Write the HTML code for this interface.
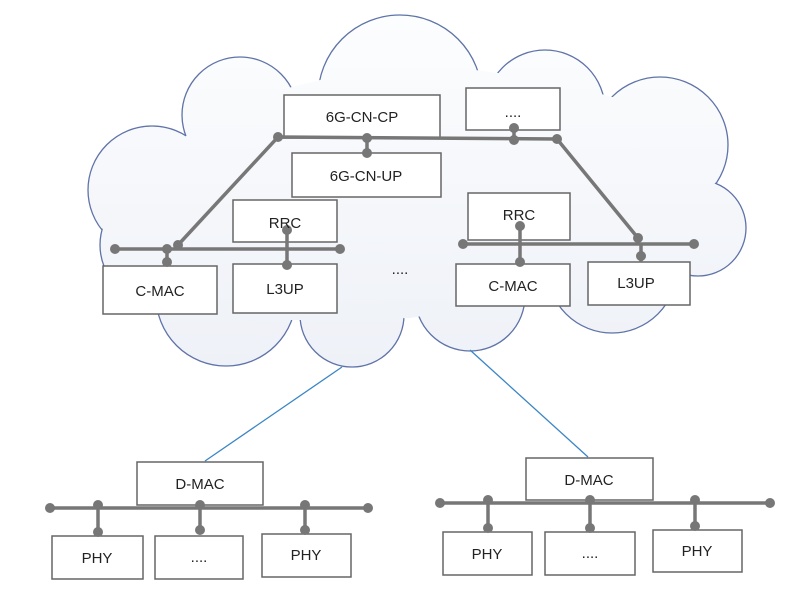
<!DOCTYPE html>
<html><head><meta charset="utf-8"><style>
html,body{margin:0;padding:0;background:#fff;}
svg{display:block;}
text{font-family:"Liberation Sans",sans-serif;font-size:15px;fill:#222;text-anchor:middle;}
</style></head><body>
<svg width="800" height="598" viewBox="0 0 800 598">
<defs>
<linearGradient id="g" gradientUnits="userSpaceOnUse" x1="0" y1="20" x2="0" y2="370"><stop offset="0" stop-color="#fcfdfe"/><stop offset="1" stop-color="#eef1f7"/></linearGradient>
</defs>
<g fill="url(#g)" stroke="#5f73a8" stroke-width="1.3">
<circle cx="152" cy="190" r="64"/>
<circle cx="240" cy="115" r="58"/>
<circle cx="400" cy="97" r="82"/>
<circle cx="545" cy="110" r="60"/>
<circle cx="660" cy="145" r="68"/>
<circle cx="698" cy="228" r="48"/>
<circle cx="612" cy="268" r="65"/>
<circle cx="470" cy="296" r="55"/>
<circle cx="352" cy="315" r="52"/>
<circle cx="226" cy="296" r="70"/>
<circle cx="158" cy="245" r="58"/>
</g>
<g fill="url(#g)" stroke="none">
<circle cx="152" cy="190" r="63"/>
<circle cx="240" cy="115" r="57"/>
<circle cx="400" cy="97" r="81"/>
<circle cx="545" cy="110" r="59"/>
<circle cx="660" cy="145" r="67"/>
<circle cx="698" cy="228" r="47"/>
<circle cx="612" cy="268" r="64"/>
<circle cx="470" cy="296" r="54"/>
<circle cx="352" cy="315" r="51"/>
<circle cx="226" cy="296" r="69"/>
<circle cx="158" cy="245" r="57"/>
<polygon points="150,160 240,100 400,60 550,80 660,110 700,200 680,260 600,290 520,300 410,318 300,320 230,320 150,280"/>
</g>
<line x1="342" y1="367" x2="205" y2="461" stroke="#3b86c6" stroke-width="1.3"/>
<line x1="470" y1="350" x2="588" y2="457" stroke="#3b86c6" stroke-width="1.3"/>
<g fill="#fff" stroke="#666" stroke-width="1.5">
<rect x="284" y="95" width="156" height="43"/>
<rect x="466" y="88" width="94" height="42"/>
<rect x="292" y="153" width="149" height="44"/>
<rect x="233" y="200" width="104" height="42"/>
<rect x="468" y="193" width="102" height="47"/>
<rect x="103" y="266" width="114" height="48"/>
<rect x="233" y="264" width="104" height="49"/>
<rect x="456" y="264" width="114" height="42"/>
<rect x="588" y="262" width="102" height="43"/>
<rect x="137" y="462" width="126" height="43"/>
<rect x="52" y="536" width="91" height="43"/>
<rect x="155" y="536" width="88" height="43"/>
<rect x="262" y="534" width="89" height="43"/>
<rect x="526" y="458" width="127" height="42"/>
<rect x="443" y="532" width="89" height="43"/>
<rect x="545" y="532" width="90" height="43"/>
<rect x="653" y="530" width="89" height="42"/>
</g>
<g stroke="#777" stroke-width="3.5" fill="none">
<polyline points="178,245 278,137 557,139 638,238"/>
<line x1="115" y1="249" x2="340" y2="249"/>
<line x1="463" y1="244" x2="694" y2="244"/>
<line x1="367" y1="138" x2="367" y2="153"/>
<line x1="514" y1="128" x2="514" y2="140"/>
<line x1="167" y1="249" x2="167" y2="263"/>
<line x1="287" y1="230" x2="287" y2="266"/>
<line x1="520" y1="225" x2="520" y2="265"/>
<line x1="641" y1="244" x2="641" y2="262"/>
<line x1="50" y1="508" x2="368" y2="508"/>
<line x1="98" y1="508" x2="98" y2="534"/>
<line x1="200" y1="505" x2="200" y2="532"/>
<line x1="305" y1="508" x2="305" y2="532"/>
<line x1="440" y1="503" x2="770" y2="503"/>
<line x1="488" y1="503" x2="488" y2="530"/>
<line x1="590" y1="503" x2="590" y2="530"/>
<line x1="695" y1="503" x2="695" y2="528"/>
</g>
<g fill="#777">
<circle cx="278" cy="137" r="5"/><circle cx="367" cy="138" r="5"/><circle cx="367" cy="153" r="5"/>
<circle cx="514" cy="128" r="5"/><circle cx="514" cy="140" r="5"/><circle cx="557" cy="139" r="5"/>
<circle cx="115" cy="249" r="5"/><circle cx="167" cy="249" r="5"/><circle cx="178" cy="245" r="5"/><circle cx="167" cy="262" r="5"/>
<circle cx="340" cy="249" r="5"/><circle cx="287" cy="230" r="5"/><circle cx="287" cy="265" r="5"/>
<circle cx="463" cy="244" r="5"/><circle cx="520" cy="226" r="5"/><circle cx="520" cy="262" r="5"/>
<circle cx="638" cy="238" r="5"/><circle cx="641" cy="256" r="5"/><circle cx="694" cy="244" r="5"/>
<circle cx="50" cy="508" r="5"/><circle cx="98" cy="505" r="5"/><circle cx="98" cy="532" r="5"/>
<circle cx="200" cy="505" r="5"/><circle cx="200" cy="530" r="5"/><circle cx="305" cy="505" r="5"/><circle cx="305" cy="530" r="5"/><circle cx="368" cy="508" r="5"/>
<circle cx="440" cy="503" r="5"/><circle cx="488" cy="500" r="5"/><circle cx="488" cy="528" r="5"/>
<circle cx="590" cy="500" r="5"/><circle cx="590" cy="528" r="5"/><circle cx="695" cy="500" r="5"/><circle cx="695" cy="526" r="5"/><circle cx="770" cy="503" r="5"/>
</g>
<text x="362" y="122">6G-CN-CP</text>
<text x="513" y="117" font-size="11">....</text>
<text x="366" y="181">6G-CN-UP</text>
<text x="285" y="228">RRC</text>
<text x="519" y="220">RRC</text>
<text x="160" y="296">C-MAC</text>
<text x="285" y="294">L3UP</text>
<text x="400" y="274" font-size="11">....</text>
<text x="513" y="291">C-MAC</text>
<text x="636" y="288">L3UP</text>
<text x="200" y="489">D-MAC</text>
<text x="97" y="563">PHY</text>
<text x="199" y="562" font-size="11">....</text>
<text x="306" y="560">PHY</text>
<text x="589" y="485">D-MAC</text>
<text x="487" y="559">PHY</text>
<text x="590" y="558" font-size="11">....</text>
<text x="697" y="556">PHY</text>
</svg>
</body></html>
